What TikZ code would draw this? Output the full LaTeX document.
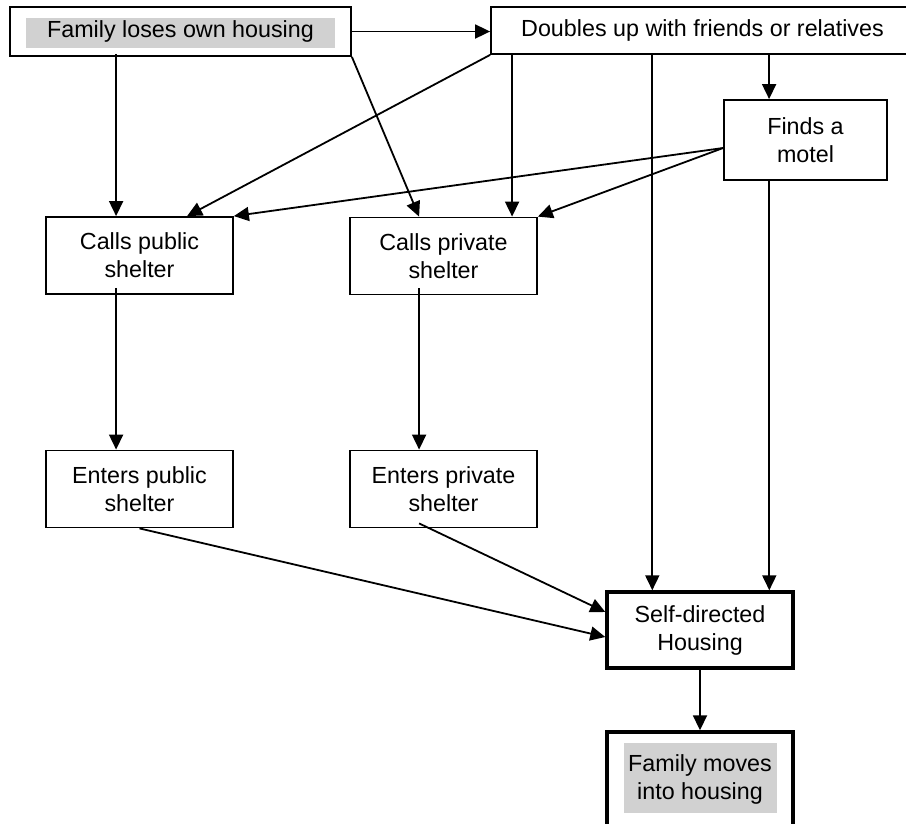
\documentclass[tikz,border=0pt]{standalone}
\usepackage{fontspec}
\setmainfont{Liberation Sans}
\usetikzlibrary{arrows.meta}
\begin{document}
\begin{tikzpicture}[x=1pt,y=-1pt,
  box/.style={draw,line width=1.8pt,minimum width=187pt,minimum height=77pt,align=center,inner sep=0pt,font=\fontsize{23.3}{28}\selectfont},
  thickbox/.style={box,line width=3.4pt},
  arr/.style={line width=1.8pt,-{Triangle[length=15pt,width=14pt]}},
  hl/.style={fill=black!18}]
\useasboundingbox (0,0) rectangle (906,823);
% highlights
\fill[hl] (26,18) rectangle (335,48);
\fill[hl] (624,743) rectangle (777,813);
% nodes
\node[box,minimum width=341pt,minimum height=49pt] (b1) at (180.5,31.5) {Family loses own housing};
\node[box,minimum width=423pt,minimum height=47pt] (dbl) at (702.5,30.5) {Doubles up with friends or relatives};
\node[box,minimum width=163pt,minimum height=80pt] (motel) at (805.5,140) {Finds a\\motel};
\node[box] (cpub) at (139.5,255.5) {Calls public\\shelter};
\node[box] (cpriv) at (443.5,256) {Calls private\\shelter};
\node[box] (epub) at (139.5,489) {Enters public\\shelter};
\node[box] (epriv) at (443.5,489) {Enters private\\shelter};
\node[thickbox,minimum width=186pt,minimum height=76pt] (self) at (700,630) {Self-directed\\Housing};
\node[thickbox,minimum width=186pt,minimum height=94pt] (fam) at (700,779) {Family moves\\into housing};
% connector end points
\coordinate (cpubA) at ([xshift=71pt]cpub.north west);
\coordinate (cpubB) at ([xshift=142pt]cpub.north west);
\coordinate (cprivA) at ([xshift=70pt]cpriv.north west);
\coordinate (cprivB) at ([xshift=163pt]cpriv.north west);
\coordinate (selfA) at ([xshift=47pt]self.north west);
\coordinate (selfB) at ([xshift=164pt]self.north west);
\coordinate (motelA) at ([xshift=46pt]motel.north west);
\coordinate (motelL) at ([yshift=-8pt]motel.west);
% connectors
\draw[arr] (b1.east) -- (b1.east -| dbl.west);
\draw[arr] ([yshift=3pt]b1.south -| cpubA) -- (cpubA);
\draw[arr] (b1.south east) -- (cprivA);
\draw[arr] (dbl.south west) -- (cpubB);
\draw[arr] (dbl.south -| cprivB) -- (cprivB);
\draw[arr] (dbl.south -| selfA) -- (selfA);
\draw[arr] (dbl.south -| motelA) -- (motelA);
\draw[arr] (motelL) -- (cpub.north east);
\draw[arr] (motelL) -- (cpriv.north east);
\draw[arr] (motel.south -| selfB) -- (selfB);
\draw[arr] ([xshift=71pt,yshift=7pt]cpub.south west) -- ([xshift=71pt]epub.north west);
\draw[arr] ([xshift=70pt,yshift=7pt]cpriv.south west) -- ([xshift=70pt]epriv.north west);
\draw[arr] (epub.south) -- ([yshift=-7pt]self.west);
\draw[arr] ([xshift=70pt,yshift=5pt]epriv.south west) -- ([yshift=18pt]self.west);
\draw[arr] (self.south) -- (fam.north);
\end{tikzpicture}
\end{document}
